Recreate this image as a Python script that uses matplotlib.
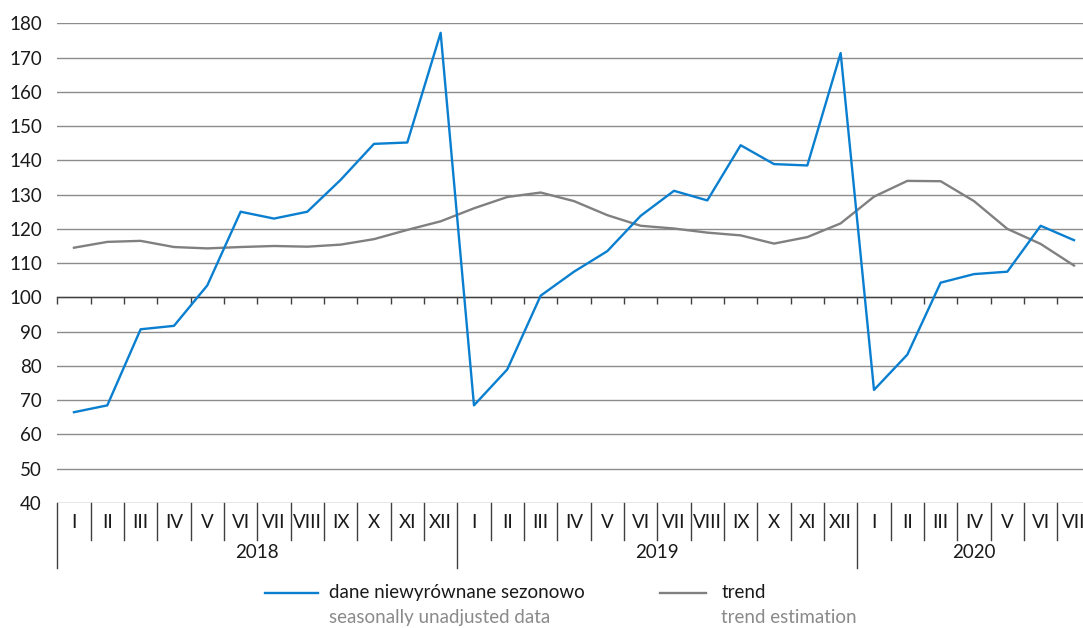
import numpy as np
import matplotlib.pyplot as plt
from matplotlib.lines import Line2D

plt.rcParams['font.family'] = ['Liberation Sans Narrow', 'Lato', 'DejaVu Sans']

# Data
years = ["2018", "2019", "2020"]
months = ["I", "II", "III", "IV", "V", "VI", "VII", "VIII", "IX", "X", "XI", "XII"]
n_2020 = 7

unadjusted = [66.5, 68.5, 90.7, 91.7, 103.5, 125.0, 123.0, 125.0, 134.3, 144.8, 145.2, 177.2,
              68.5, 79.0, 100.5, 107.5, 113.5, 123.8, 131.1, 128.3, 144.4, 138.9, 138.5, 171.3,
              73.0, 83.3, 104.3, 106.8, 107.5, 120.9, 116.7]
trend = [114.5, 116.2, 116.5, 114.7, 114.3, 114.7, 115.0, 114.8, 115.4, 117.0, 119.7, 122.2,
         126.0, 129.3, 130.6, 128.1, 124.0, 120.9, 120.1, 118.9, 118.1, 115.7, 117.6, 121.6,
         129.4, 134.0, 133.9, 128.1, 120.0, 115.6, 109.3]

labels = months * 2 + months[:n_2020]
x = np.arange(len(labels))

blue = "#0a7fd0"
grey = "#808080"

fig = plt.figure(figsize=(10.83, 6.28), dpi=100)
ax = fig.add_axes([0.0529, 0.199, 0.9471, 0.764])

ax.plot(x, trend, color=grey, lw=1.7, zorder=3)
ax.plot(x, unadjusted, color=blue, lw=1.7, zorder=4)

ax.set_yticks(np.arange(40, 181, 10))
ax.tick_params(axis='y', length=0, pad=11, labelsize=13.5, labelcolor="#1a1a1a")
ax.yaxis.grid(True, color="#8c8c8c", lw=1)
ax.set_axisbelow(True)

# x axis line at 100 with small ticks between categories
for s in ["top", "right", "left"]:
    ax.spines[s].set_visible(False)
ax.spines["bottom"].set_position(("data", 100))
ax.spines["bottom"].set_color("#404040")
ax.spines["bottom"].set_linewidth(1)
ax.set_xticks([])
ax.set_xticks(np.arange(-0.5, len(labels), 1), minor=True)
ax.tick_params(axis='x', which='minor', length=5, width=1, color="#404040",
               direction='out', labelbottom=False)

# limits set last so the tick setup cannot widen them
ax.set_xlim(-0.5, 30.27)
ax.set_ylim(40, 180)

# category labels below the plot
tr = ax.get_xaxis_transform()
for i, lab in enumerate(labels):
    ax.text(i, -0.04, lab, transform=tr, ha='center', va='center',
            fontsize=13.5, color="#1a1a1a", clip_on=False)
for i in range(len(labels)):
    b = i - 0.5
    long_sep = (i % 12 == 0)
    ax.plot([b, b], [0, -0.135 if long_sep else -0.077], transform=tr,
            color="#404040", lw=1, clip_on=False)
for k, yr in enumerate(years):
    n = 12 if k < 2 else n_2020
    cx = k * 12 + (n - 1) / 2
    ax.text(cx, -0.103, yr, transform=tr, ha='center', va='center',
            fontsize=13.5, color="#1a1a1a", clip_on=False)
ax.set_xlim(-0.5, 30.27)

# legend
fig.add_artist(Line2D([0.245, 0.294], [0.056, 0.056], color=blue, lw=1.7))
fig.text(0.304, 0.056, "dane niewyrównane sezonowo", fontsize=13.5,
         color="#1a1a1a", va='center')
fig.text(0.304, 0.016, "seasonally unadjusted data", fontsize=13.5,
         color="#8a8a8a", va='center')
fig.add_artist(Line2D([0.609, 0.652], [0.056, 0.056], color=grey, lw=1.7))
fig.text(0.666, 0.056, "trend", fontsize=13.5, color="#1a1a1a", va='center')
fig.text(0.666, 0.016, "trend estimation", fontsize=13.5, color="#8a8a8a", va='center')

fig.savefig("out.png", dpi=100)
